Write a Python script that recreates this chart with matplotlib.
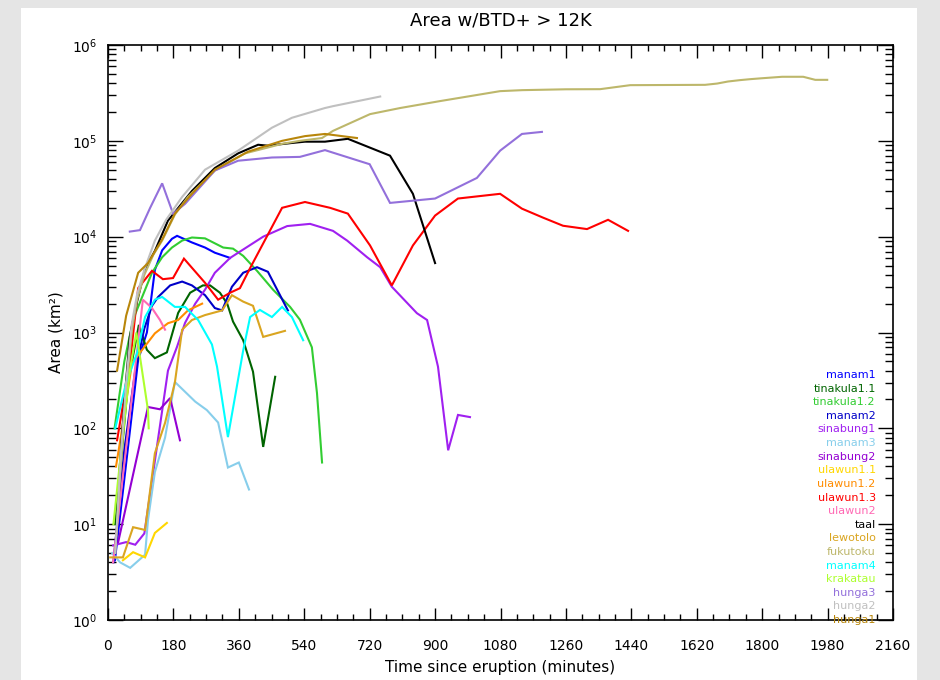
import matplotlib
matplotlib.use("Agg")
import matplotlib.pyplot as plt
from matplotlib.patches import Rectangle
from matplotlib.ticker import MultipleLocator, LogLocator, NullFormatter, FixedLocator

# ---------------- data (time in minutes, area in km^2) ----------------
names = ["manam1", "tinakula1.1", "tinakula1.2", "manam2", "sinabung1", "manam3",
         "sinabung2", "ulawun1.1", "ulawun1.2", "ulawun1.3", "ulawun2", "taal",
         "lewotolo", "fukutoku", "manam4", "krakatau", "hunga3", "hunga2", "hunga1"]

colors = ["#0000ff", "#006400", "#32cd32", "#0000c8", "#a020f0", "#87ceeb",
          "#9400d3", "#ffd700", "#ff8c00", "#ff0000", "#ff69b4", "#000000",
          "#daa520", "#bdb76b", "#00ffff", "#adff2f", "#9370db", "#c0c0c0", "#b8860b"]

manam1_t = [19, 83, 107, 129, 149, 176, 190, 231, 267, 294, 336]
manam1_a = [4.2, 520, 1000, 4500, 7200, 9500, 10200, 8700, 7700, 6800, 6000]

tinakula11_t = [20, 55, 85, 107, 129, 162, 193, 226, 261, 281, 308, 328, 344, 372, 399, 427, 460]
tinakula11_a = [10, 300, 1200, 660, 540, 620, 1600, 2600, 3100, 3100, 2600, 2000, 1300, 830, 390, 64, 345]

tinakula12_t = [18, 45, 70, 94, 121, 149, 176, 204, 231, 267, 317, 344, 372, 410, 454, 501, 528, 561, 575, 589]
tinakula12_a = [100, 500, 1400, 2350, 4200, 6100, 7700, 9100, 9800, 9600, 7700, 7500, 6300, 4400, 2800, 1850, 1360, 700, 234, 44]

manam2_t = [15, 45, 75, 100, 121, 138, 171, 204, 231, 267, 294, 314, 341, 372, 410, 440, 495]
manam2_a = [4, 60, 400, 1100, 1900, 2350, 3100, 3400, 3100, 2450, 1800, 1700, 3000, 4200, 4800, 4300, 1700]

sinabung1_t = [14, 50, 75, 100, 165, 190, 212, 240, 267, 294, 336, 427, 493, 556, 619, 658, 713, 749,
               781, 850, 878, 908, 936, 963, 996]
sinabung1_a = [6, 6.5, 6.1, 8, 400, 710, 1260, 2000, 2800, 4200, 6000, 10000, 12900, 13600, 11500, 9100,
               6100, 4800, 3000, 1590, 1350, 440, 59, 138, 131]

manam3_t = [11, 33, 61, 102, 110, 129, 157, 184, 240, 272, 303, 330, 360, 388]
manam3_a = [5, 4, 3.5, 4.8, 11, 35, 80, 305, 190, 155, 115, 39, 44, 23]

sinabung2_t = [28, 110, 143, 171, 198]
sinabung2_a = [6.5, 167, 158, 207, 75]

ulawun11_t = [41, 69, 102, 129, 162]
ulawun11_a = [4.2, 5.1, 4.5, 8.1, 10.3]

ulawun12_t = [22, 35, 66, 94, 129, 165, 193, 220, 259]
ulawun12_a = [40, 80, 480, 660, 980, 1250, 1350, 1700, 2000]

ulawun13_t = [25, 61, 83, 100, 121, 151, 179, 209, 267, 303, 336, 363, 391, 479, 542, 611, 660, 721,
              781, 839, 900, 963, 1079, 1139, 1197, 1252, 1318, 1376, 1431]
ulawun13_a = [75, 500, 2900, 3500, 4400, 3600, 3700, 5900, 3300, 2200, 2600, 2900, 4700, 20000, 23000,
              20000, 17400, 8100, 3100, 8100, 16600, 25000, 28000, 19600, 15800, 13000, 12000, 15000, 11500]

ulawun2_t = [14, 96, 121, 143, 157]
ulawun2_a = [4, 2200, 1800, 1350, 1070]

taal_t = [30, 47, 60, 80, 102, 129, 165, 231, 294, 358, 413, 440, 506, 542, 597, 660, 776, 839, 900]
taal_a = [30, 234, 900, 2100, 4600, 7100, 14700, 30000, 52000, 74000, 91000, 89000, 95000, 98000,
          98000, 105000, 70000, 28000, 5300]

lewotolo_t = [6, 41, 69, 102, 129, 157, 184, 204, 231, 267, 314, 341, 372, 399, 427, 487]
lewotolo_a = [4.5, 4.5, 9.3, 8.7, 55, 114, 300, 1070, 1350, 1520, 1700, 2450, 2100, 1900, 900, 1040]

fukutoku_t = [20, 35, 50, 65, 80, 100, 125, 149, 184, 220, 294, 377, 479, 528, 589, 619, 721, 804, 914,
              1079, 1140, 1260, 1354, 1437, 1643, 1676, 1706, 1739, 1767, 1800, 1855, 1913, 1946, 1979]
fukutoku_a = [5, 40, 250, 1000, 2200, 4000, 6500, 9100, 17000, 26000, 49000, 74000, 93000, 100000,
              107000, 127000, 190000, 220000, 260000, 330000, 338000, 345000, 346000, 381000, 384000,
              396000, 416000, 430000, 440000, 450000, 466000, 466000, 433000, 433000]

manam4_t = [20, 50, 80, 102, 129, 149, 184, 212, 248, 286, 300, 330, 372, 391, 418, 451, 479, 506, 537]
manam4_a = [100, 300, 610, 1450, 2200, 2350, 1850, 1850, 1350, 750, 440, 81, 650, 1450, 1720, 1450,
            1850, 1450, 830]

krakatau_t = [15, 40, 60, 78, 110, 112]
krakatau_a = [10, 80, 400, 1000, 155, 100]

hunga3_t = [60, 88, 116, 149, 179, 212, 294, 358, 451, 528, 597, 720, 776, 900, 1015, 1079, 1139, 1194]
hunga3_a = [11300, 11700, 20000, 36000, 17400, 22000, 49000, 62000, 67000, 68000, 80000, 57000, 22500,
            25000, 41000, 79000, 118000, 124000]

hunga2_t = [20, 35, 50, 65, 80, 100, 129, 160, 204, 267, 358, 451, 506, 597, 619, 749]
hunga2_a = [5, 50, 300, 1200, 2500, 4500, 9100, 15000, 26000, 50000, 79000, 137000, 174000, 220000,
            230000, 290000]

hunga1_t = [25, 50, 83, 110, 150, 184, 231, 294, 385, 479, 542, 597, 685]
hunga1_a = [400, 1500, 4200, 5300, 9500, 17400, 28000, 50000, 77000, 100000, 112000, 118000, 107000]

series_t = [manam1_t, tinakula11_t, tinakula12_t, manam2_t, sinabung1_t, manam3_t, sinabung2_t,
            ulawun11_t, ulawun12_t, ulawun13_t, ulawun2_t, taal_t, lewotolo_t, fukutoku_t,
            manam4_t, krakatau_t, hunga3_t, hunga2_t, hunga1_t]
series_a = [manam1_a, tinakula11_a, tinakula12_a, manam2_a, sinabung1_a, manam3_a, sinabung2_a,
            ulawun11_a, ulawun12_a, ulawun13_a, ulawun2_a, taal_a, lewotolo_a, fukutoku_a,
            manam4_a, krakatau_a, hunga3_a, hunga2_a, hunga1_a]

xticks = list(range(0, 2161, 180))
ydecades = [10 ** k for k in range(0, 7)]

# ---------------- figure ----------------
plt.rcParams['font.family'] = ['DejaVu Sans']
fig = plt.figure(figsize=(9.4, 6.8), dpi=100, facecolor="#e5e5e5")
bg = Rectangle((21 / 940, 0), (917 - 21) / 940, (680 - 8) / 680,
               transform=fig.transFigure, facecolor="white", edgecolor="none")
bg.set_zorder(-100)
fig.add_artist(bg)
ax = fig.add_axes([108 / 940, 60 / 680, 785 / 940, 575 / 680])
ax.set_zorder(5)
ax.set_facecolor("white")

for t, a, c in zip(series_t, series_a, colors):
    ax.plot(t, a, color=c, lw=1.5, solid_joinstyle="miter")

ax.set_yscale("log")
ax.set_xlim(0, 2160)
ax.set_ylim(1, 1e6)
ax.set_xticks(xticks)
ax.set_xticklabels([str(v) for v in xticks])
ax.xaxis.set_minor_locator(MultipleLocator(45))
ax.yaxis.set_major_locator(FixedLocator(ydecades))
ax.set_yticklabels([r"$10^{%d}$" % k for k in range(0, 7)])
ax.yaxis.set_minor_locator(FixedLocator([m * d for d in ydecades[:-1] for m in range(2, 10)]))
ax.yaxis.set_minor_formatter(NullFormatter())

ax.tick_params(which="both", direction="in", top=True, right=True, labelsize=10, colors="black")
ax.tick_params(axis="x", which="major", length=9, width=1, pad=14)
ax.tick_params(axis="x", which="minor", length=4.5, width=1)
ax.tick_params(axis="y", which="major", length=11, width=1, pad=8)
ax.tick_params(axis="y", which="minor", length=6, width=1)
for s in ax.spines.values():
    s.set_linewidth(1.2)

ax.set_title("Area w/BTD+ > 12K", fontsize=13, pad=14)
ax.set_xlabel("Time since eruption (minutes)", fontsize=11, labelpad=5)
ax.set_ylabel("Area (km²)", fontsize=11, labelpad=6)

# legend as coloured labels
for i, (n, c) in enumerate(zip(names, colors)):
    ax.text(0.978, 0.426 - i * 0.02367, n, color=c, fontsize=8, ha="right", va="center",
            transform=ax.transAxes)

fig.savefig("out.png", dpi=100, facecolor=fig.get_facecolor())
